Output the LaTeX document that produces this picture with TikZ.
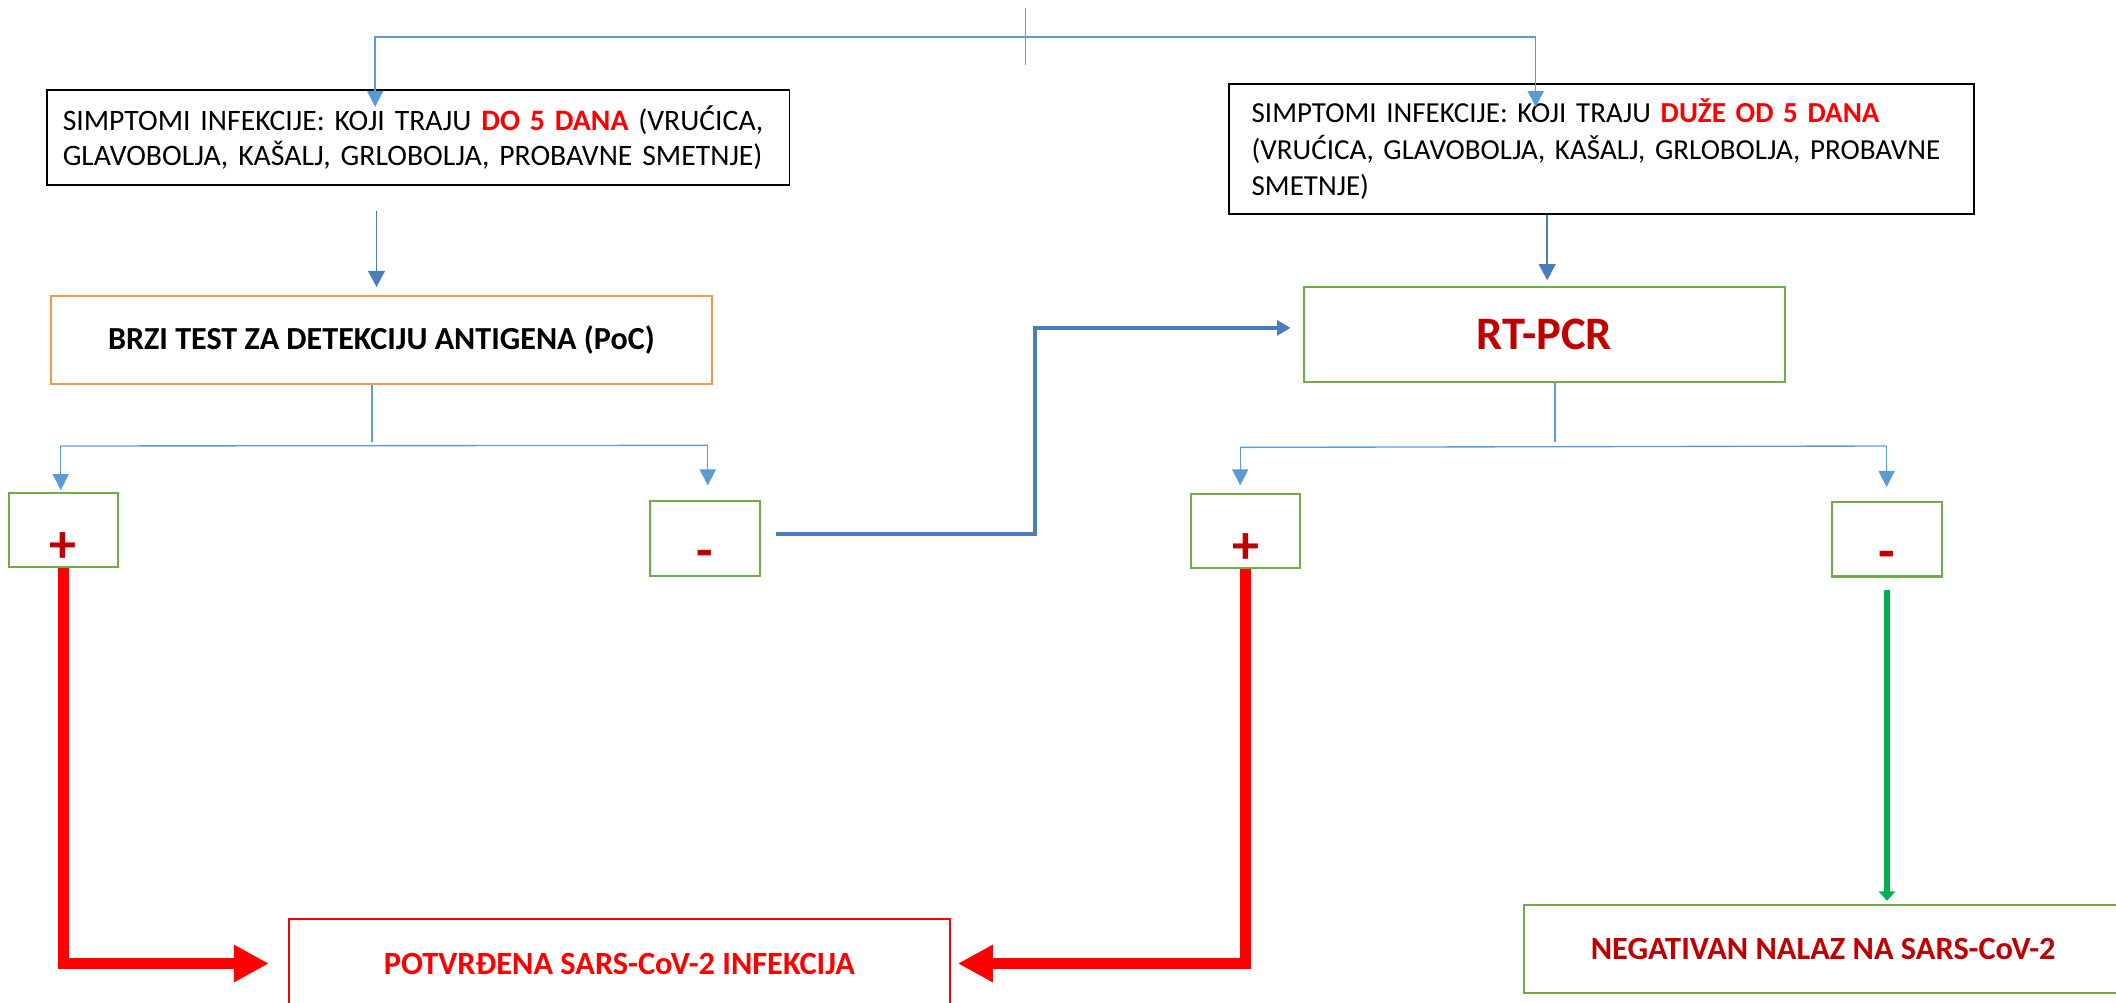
\documentclass[tikz,border=0pt]{standalone}
\usepackage{fontspec}
\setmainfont{Carlito}
\usetikzlibrary{arrows.meta,positioning}
\definecolor{linkblue}{HTML}{5B9BD5}
\definecolor{arrowblue}{HTML}{4A7EBB}
\definecolor{boxgreen}{HTML}{70AD47}
\definecolor{boxorange}{HTML}{F79646}
\definecolor{darkred}{HTML}{C00000}
\definecolor{arrowgreen}{HTML}{00B050}
\definecolor{alarm}{HTML}{FF0000}
\tikzset{
    symptom box/.style = {
        draw = black,
        line width = 1.4pt,
        inner ysep = 0pt,
        align = left,
        },
    test box/.style = {
        line width = 1.5pt,
        inner sep = 0pt,
        },
    sign box/.style = {
        draw = boxgreen,
        line width = 1.5pt,
        minimum width = 81pt,
        minimum height = 55pt,
        inner sep = 0pt,
        text = darkred,
        font = \fontsize{40}{40}\selectfont\bfseries,
        },
    result box/.style = {
        line width = 1.5pt,
        inner sep = 0pt,
        font = \fontsize{24}{26}\selectfont\bfseries,
        },
    thin link/.style = {
        draw = linkblue,
        line width = 1pt,
        },
    thin arrow/.style = {
        thin link,
        -{Triangle[width=12pt,length=12pt]},
        },
    down arrow/.style = {
        draw = arrowblue,
        line width = 1.2pt,
        -{Triangle[width=12.5pt,length=12pt]},
        },
    jump arrow/.style = {
        draw = arrowblue,
        line width = 3pt,
        -{Triangle[width=11pt,length=10pt]},
        },
    positive arrow/.style = {
        draw = alarm,
        line width = 8.7pt,
        -{Triangle[width=26pt,length=26pt]},
        },
    negative arrow/.style = {
        draw = arrowgreen,
        line width = 4.5pt,
        -{Triangle[width=12pt,length=7pt]},
        },
}

\begin{document}
\begin{tikzpicture}[x=1pt,y=-1pt]
    \useasboundingbox (0,0) rectangle (1568,743);

    % symptoms
    \node[symptom box, minimum width=550pt, minimum height=70pt, text width=527pt, inner xsep=11.5pt,
        font=\fontsize{22}{26}\selectfont] (short) at (310,102)
        {\makebox[527pt][s]{SIMPTOMI INFEKCIJE: KOJI TRAJU \textbf{\color{alarm}DO 5 DANA} (VRUĆICA,}\\
         \makebox[527pt][s]{GLAVOBOLJA, KAŠALJ, GRLOBOLJA, PROBAVNE SMETNJE)}};
    \node[symptom box, minimum width=552pt, minimum height=96pt, text width=519pt, inner xsep=16.5pt,
        font=\fontsize{21.5}{27}\selectfont] (long) at (1187,110.5)
        {SIMPTOMI INFEKCIJE: KOJI TRAJU \textbf{\color{alarm}DUŽE OD 5 DANA}\\
         (VRUĆICA, GLAVOBOLJA, KAŠALJ, GRLOBOLJA, PROBAVNE\\
         SMETNJE)};

    % tests
    \node[test box, draw=boxorange, minimum width=490pt, minimum height=65.3pt,
        font=\fontsize{23.8}{26}\selectfont\bfseries] (antigen) at (282.6,252)
        {BRZI TEST ZA DETEKCIJU ANTIGENA (PoC)};
    \node[test box, draw=boxgreen, minimum width=356.7pt, minimum height=70pt, text=darkred,
        font=\fontsize{34.5}{36}\selectfont\bfseries] (rtpcr) at (1144.4,248) {RT-PCR};

    % results of the tests
    \node[sign box] (plusL) at (47,392.5) {\raisebox{-24pt}[0pt][0pt]{+}};
    \node[sign box] (minusL) at (522.5,399) {\raisebox{-22pt}[0pt][0pt]{-}};
    \node[sign box] (plusR) at (923,393.5) {\raisebox{-24pt}[0pt][0pt]{+}};
    \node[sign box] (minusR) at (1398.3,399.7) {\raisebox{-22pt}[0pt][0pt]{-}};

    % findings
    \node[result box, draw=alarm, text=alarm, minimum width=490pt, minimum height=66pt] (confirm)
        at (459,714) {POTVRĐENA SARS-CoV-2 INFEKCIJA};
    \node[result box, draw=boxgreen, text=darkred, minimum width=444pt, minimum height=65.3pt] (negative)
        at (1351,703.4) {NEGATIVAN NALAZ NA SARS-CoV-2};

    % split at the top
    \coordinate (tickTop) at (760,6);
    \coordinate (tickBot) at (760,48);
    \coordinate (split) at (760,27.5);
    \draw[thin link] (tickTop) -- (tickBot);
    \draw[thin arrow] (split) -| ([xshift=-32pt,yshift=-13pt]short.north);
    \draw[thin arrow] (split) -| ([xshift=-49pt,yshift=-17.5pt]long.north);

    \draw[down arrow] ([xshift=-31pt,yshift=-19pt]short.south) -- ++(0,56);
    \draw[down arrow] ([xshift=-40.5pt]long.south) -- ++(0,48.5);

    % fork under the antigen test
    \coordinate (forkAL) at (45,330.5);
    \coordinate (forkAR) at (524.5,330);
    \draw[thin link] ([xshift=-7pt]antigen.south) -- ++(0,42);
    \draw[thin link] (forkAL) -- (forkAR);
    \draw[thin arrow] (forkAL) -- ([yshift=1pt]forkAL |- plusL.north);
    \draw[thin arrow] (forkAR) -- ([yshift=11pt]forkAR |- minusL.north);

    % fork under RT-PCR
    \coordinate (forkBL) at (919,331.5);
    \coordinate (forkBR) at (1398,330.5);
    \draw[thin link] ([xshift=8pt]rtpcr.south) -- ++(0,44);
    \draw[thin link] (forkBL) -- (forkBR);
    \draw[thin arrow] (forkBL) -- ([yshift=5.5pt]forkBL |- plusR.north);
    \draw[thin arrow] (forkBR) -- ([yshift=10.5pt]forkBR |- minusR.north);

    \draw[jump arrow] ([xshift=11pt,yshift=3pt]minusL.east) -- ++(192,0) |- ([xshift=-9pt,yshift=5pt]rtpcr.west);

    \draw[positive arrow, shorten >=14pt] (plusL.south) |- (confirm.west);
    \draw[positive arrow, shorten >=5pt] (plusR.south) |- (confirm.east);
    \draw[negative arrow, shorten <=9pt, shorten >=2.5pt] (minusR.south) -- (minusR.south |- negative.north);
\end{tikzpicture}
\end{document}
